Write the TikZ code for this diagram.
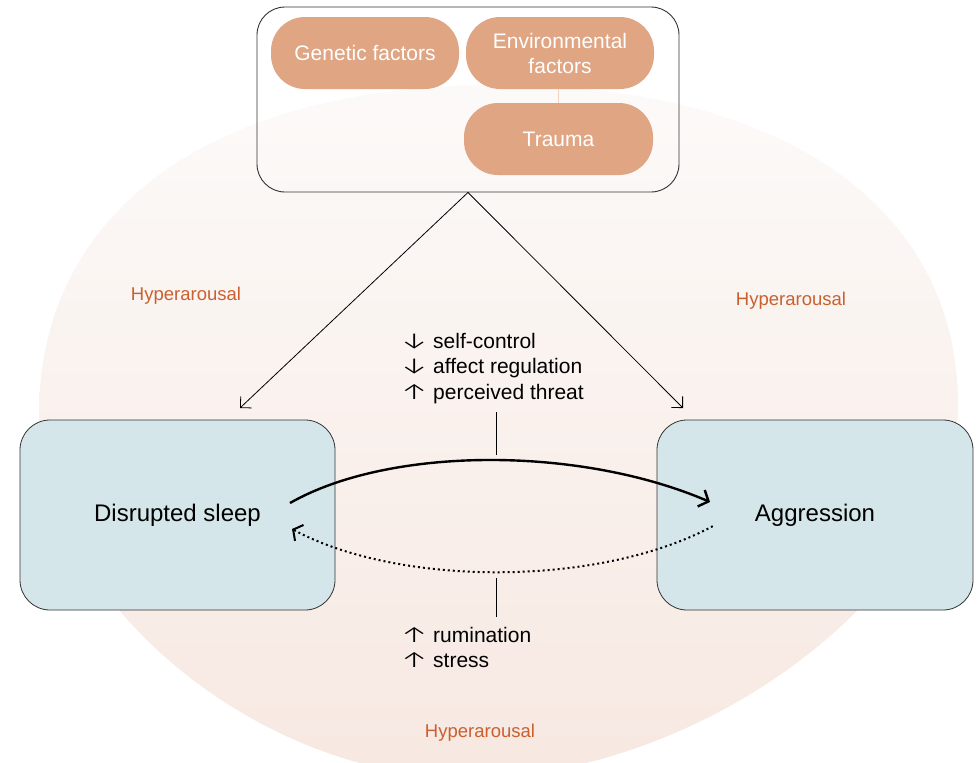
\documentclass[tikz,border=0pt]{standalone}
\usepackage{fontspec}
\setmainfont{Liberation Sans}
\newfontfamily\arrowfont{Fira Sans Light}
\usetikzlibrary{arrows.meta}
\definecolor{pill}{HTML}{E0A583}
\definecolor{pillline}{HTML}{F2D3C3}
\definecolor{boxblue}{HTML}{D4E6EA}
\definecolor{hyper}{HTML}{C9602E}
\definecolor{bgtop}{HTML}{FCFAF9}
\definecolor{bgbot}{HTML}{F7E8E1}
\definecolor{edge}{HTML}{333333}
\newcommand\myarr[1]{\makebox[33pt][l]{\scalebox{1.5}[1.1]{\arrowfont #1}}}
\begin{document}
\begin{tikzpicture}[x=1pt,y=-1pt,
  pillnode/.style={fill=pill, rounded corners=34pt, minimum width=188pt, minimum height=72pt, inner sep=0pt, text=white, font=\fontsize{21}{25}\selectfont, align=center},
  mainbox/.style={draw=edge, line width=0.8pt, fill=boxblue, rounded corners=30pt, minimum width=315pt, minimum height=190pt, inner sep=0pt, font=\fontsize{24}{28}\selectfont},
  hyperlabel/.style={text=hyper, font=\fontsize{18.5}{22}\selectfont, anchor=base, inner sep=0pt},
  factor/.style={anchor=base west, inner sep=0pt, font=\fontsize{21}{25}\selectfont},
  thinarrow/.style={draw=black, line width=0.8pt, -{Straight Barb[length=8pt,width=16pt]}},
  thinline/.style={draw=black, line width=0.8pt},
]
\useasboundingbox (0,0) rectangle (980,763);
\fill[white] (0,0) rectangle (980,763);
% background blob
\shade[top color=bgtop, bottom color=bgbot]
  (39,415) .. controls (39,210) and (213,85) .. (498,85)
  .. controls (783,85) and (958,207) .. (958,405)
  .. controls (958,585) and (705,778) .. (468,778)
  .. controls (255,778) and (39,596) .. (39,415) -- cycle;

% top box with factors
\node[draw=edge, line width=0.9pt, rounded corners=28pt, minimum width=422pt, minimum height=185pt, inner sep=0pt] (top) at (468,99.5) {};
\node[pillnode] (gen) at (365,53) {\raisebox{-3pt}{Genetic factors}};
\node[pillnode] (env) at (560,53) {\raisebox{-3pt}{Environmental}\\\raisebox{-3pt}{factors}};
\node[pillnode, minimum width=189pt] (trauma) at (558.5,139) {\raisebox{-3pt}{Trauma}};
\draw[draw=pillline, line width=1.6pt] (trauma.north) -- (trauma.north |- env.south);

% main boxes
\node[mainbox] (sleep) at (177.5,515) {\raisebox{-5pt}{Disrupted sleep}};
\node[mainbox, minimum width=316pt] (aggr) at (815,515) {\raisebox{-5pt}{Aggression}};

% arrows from top box
\coordinate (sleepin) at (240,408);
\coordinate (aggrin) at (683,408);
\draw[thinarrow] (top.south) -- (sleepin);
\draw[thinarrow] (top.south) -- (aggrin);

% curved arrows
\coordinate (s1) at (290,503);
\coordinate (a1) at (710,502);
\coordinate (s2) at (292,529);
\coordinate (a2) at (713,526);
\draw[line width=2.4pt, -{Straight Barb[length=8pt,width=18pt]}] (s1) .. controls (390,446) and (580,446) .. (a1);
\draw[line width=2pt, dash pattern=on 2pt off 3pt, {Straight Barb[length=7pt,width=18pt]}-] (s2) .. controls (400,587) and (600,587) .. (a2);

% short vertical lines
\coordinate (m1) at (496,412);
\coordinate (m2) at (496,455);
\coordinate (m3) at (496,578);
\coordinate (m4) at (496,617);
\draw[thinline] (m1) -- (m2);
\draw[thinline] (m3) -- (m4);

% factor lists
\node[factor] (f1) at (400,348) {\myarr{↓}self-control};
\node[factor] (f2) at (400,373.5) {\myarr{↓}affect regulation};
\node[factor] (f3) at (400,399) {\myarr{↑}perceived threat};
\node[factor] (f4) at (400,642) {\myarr{↑}rumination};
\node[factor] (f5) at (400,667) {\myarr{↑}stress};

% hyperarousal labels
\node[hyperlabel] (h1) at (186,300) {Hyperarousal};
\node[hyperlabel] (h2) at (791,305) {Hyperarousal};
\node[hyperlabel] (h3) at (480,737) {Hyperarousal};
\end{tikzpicture}
\end{document}
